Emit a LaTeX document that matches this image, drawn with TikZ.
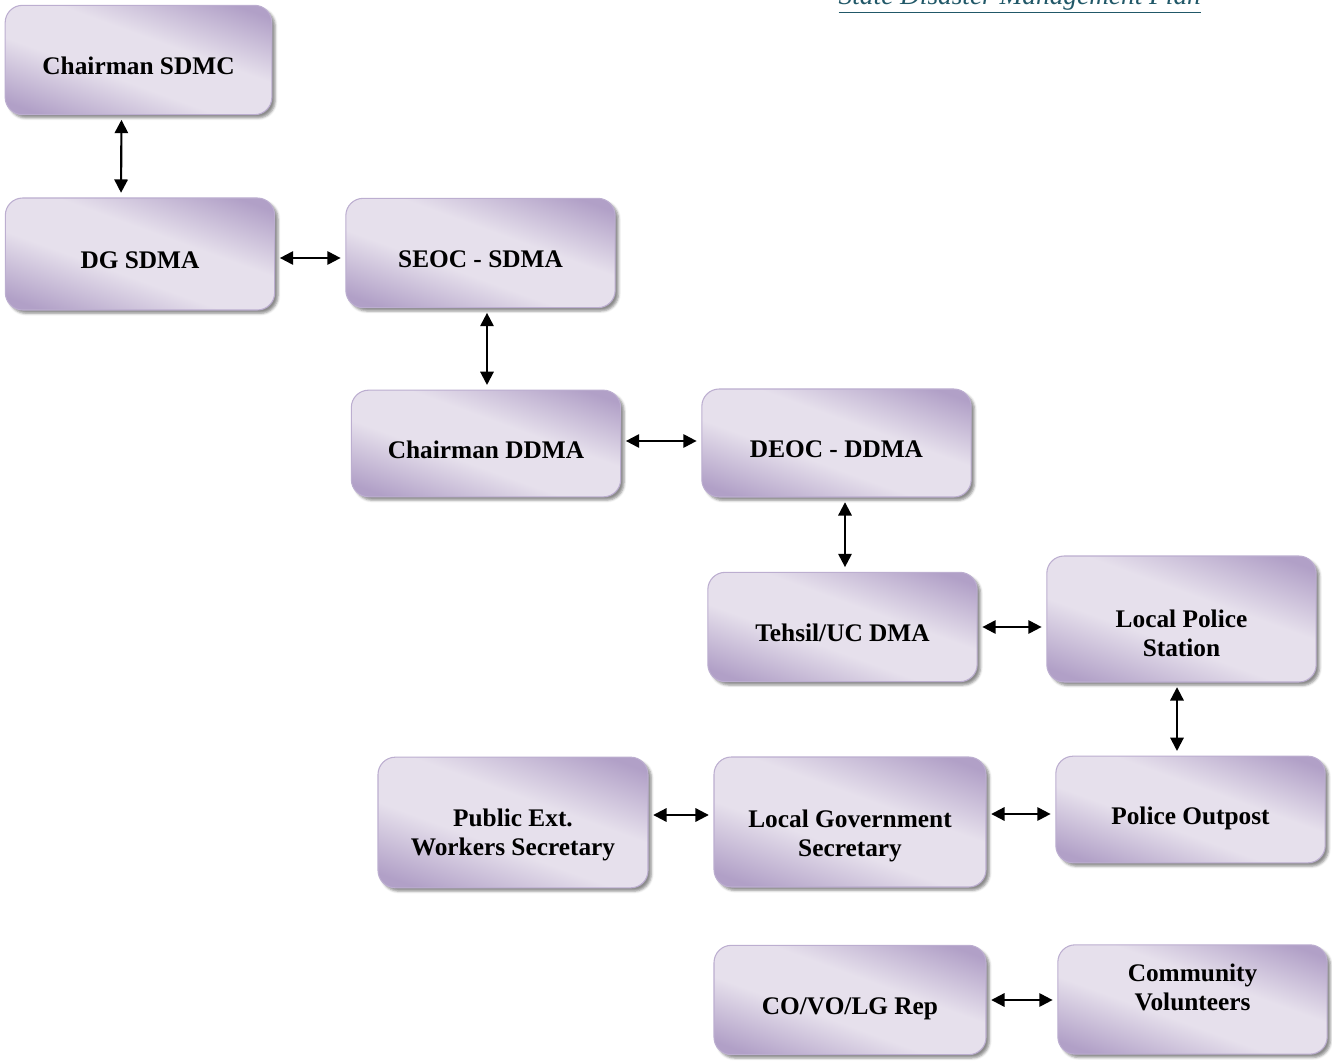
\documentclass[tikz,border=0pt]{standalone}
\usepackage{fontspec}
\setmainfont{Liberation Serif}
\usetikzlibrary{arrows.meta,calc,shadows.blur}
\definecolor{BoxDark}{HTML}{B1A0C7}
\definecolor{BoxLight}{HTML}{E6E0EC}
\definecolor{BoxEdge}{HTML}{BCAED0}
\definecolor{TitleTeal}{HTML}{215868}
\pgfdeclarehorizontalshading{lavender}{100bp}{color(0bp)=(BoxDark); color(22bp)=(BoxDark); color(42bp)=(BoxLight); color(58bp)=(BoxLight); color(78bp)=(BoxDark); color(100bp)=(BoxDark)}

\begin{document}
\begin{tikzpicture}[x=0.75pt,y=-0.75pt,>={Triangle[length=10pt,width=10pt]},
  orgbox/.style={draw=BoxEdge,line width=0.8pt,rounded corners=13pt,shade,shading=lavender,shading angle=70,
    minimum width=202pt,minimum height=82pt,align=center,font=\fontsize{19}{21.75}\selectfont\bfseries,
    text height=22pt,text depth=0pt,
    blur shadow={shadow xshift=2.5pt,shadow yshift=-2.5pt,shadow opacity=45}},
  textdrop/.style 2 args={text height=#1,text depth=#2},
  link/.style={<->,line width=1.6pt,shorten <=3.5pt,shorten >=3.5pt}]
  \useasboundingbox (0,0) rectangle (1332,1062);
  \node[anchor=base west,text=TitleTeal,font=\fontsize{20.5}{24}\selectfont\itshape] (title) at (834,5)
    {\underline{State Disaster Management Plan}};
  % state level
  \node[orgbox,minimum width=200pt] (sdmc) at (138.5,60) {Chairman SDMC};
  \node[orgbox,minimum height=84pt] (dgsdma) at (140,254) {DG SDMA};
  \node[orgbox] (seoc) at (480.5,253) {SEOC - SDMA};
  % district level
  \node[orgbox,minimum height=80pt] (chddma) at (486,443.5) {Chairman DDMA};
  \node[orgbox,minimum height=81pt] (deoc) at (836.5,443) {DEOC - DDMA};
  % tehsil level
  \node[orgbox] (tehsil) at (842.5,627) {Tehsil/UC DMA};
  \node[orgbox,minimum height=94.5pt,textdrop={55.5pt}{0pt}] (station) at (1181.5,619) {Local Police\\Station};
  \node[orgbox,minimum height=80pt] (outpost) at (1190.5,809.5) {Police Outpost};
  \node[orgbox,minimum width=204pt,minimum height=97.5pt,textdrop={51pt}{0pt}] (lgsec) at (850,822) {Local Government\\Secretary};
  \node[orgbox,minimum width=202.5pt,minimum height=98pt,textdrop={49.5pt}{0pt}] (pubext) at (513,822.5) {Public Ext.\\Workers Secretary};
  % community level
  \node[orgbox,minimum width=204pt] (covo) at (850,1000) {CO/VO/LG Rep};
  \node[orgbox,textdrop={15.75pt}{0pt}] (volunteers) at (1192.5,999.5) {Community\\Volunteers};

  \draw[link] ($(sdmc.south)+(-17,0)$) -- ($(dgsdma.north)+(-19,0)$);
  \draw[link] ($(dgsdma.east)+(0,4)$) -- ($(seoc.west)+(0,5)$);
  \draw[link] ($(seoc.south)+(6.5,0)$) -- ($(chddma.north)+(1,0)$);
  \draw[link] ($(chddma.east)+(0,-2.5)$) -- ($(deoc.west)+(0,-2)$);
  \draw[link] ($(deoc.south)+(8.5,0)$) -- ($(tehsil.north)+(2.5,0)$);
  \draw[link] (tehsil.east) -- ($(station.west)+(0,8)$);
  \draw[link] ($(station.south)+(-4.5,0)$) -- ($(outpost.north)+(-13.5,0)$);
  \draw[link] ($(lgsec.east)+(0,-8)$) -- ($(outpost.west)+(0,4.5)$);
  \draw[link] ($(pubext.east)+(0,-7.5)$) -- ($(lgsec.west)+(0,-7)$);
  \draw[link] (covo.east) -- ($(volunteers.west)+(0,0.5)$);
\end{tikzpicture}
\end{document}
